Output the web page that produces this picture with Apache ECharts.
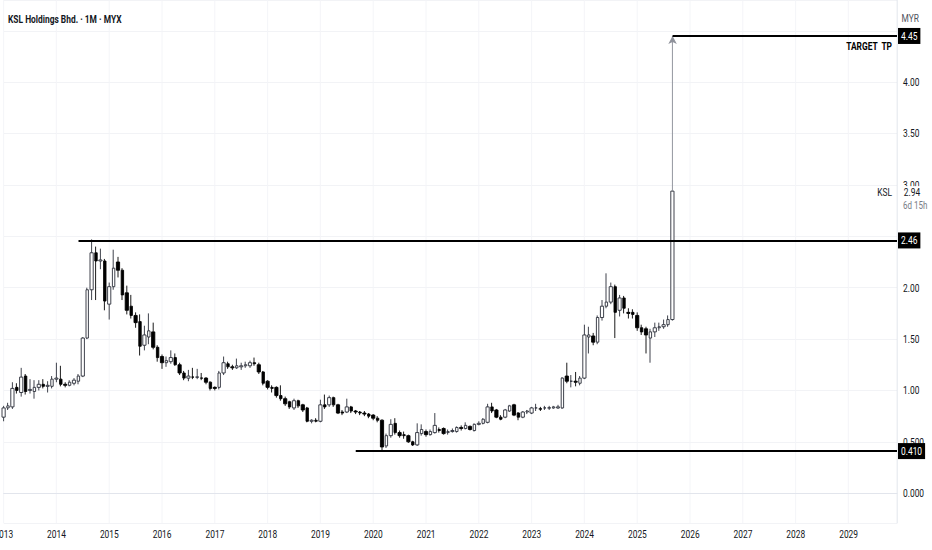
<!DOCTYPE html>
<html><head><meta charset="utf-8">
<script src="https://cdn.jsdelivr.net/npm/echarts@6/dist/echarts.min.js"></script>
<style>
html,body{margin:0;padding:0;background:#fff;overflow:hidden;width:932px;height:550px}
#c{width:1165px;height:550px;transform:scaleX(0.8);transform-origin:0 0}
</style>
</head><body><div id="c"></div>
<script>
// Monthly candles, Jan 2013 .. Sep 2025
const startYear = 2013;
const monthCount = 204; // axis runs Jan 2013 .. Dec 2029
const opens = [
 0.74,0.83,0.84,1.03,0.98,1.14,1.00,0.99,1.03,1.06,
 1.04,1.04,1.11,1.11,1.06,1.05,1.07,1.09,1.14,1.51,
 1.98,2.34,2.26,2.26,1.84,2.01,2.25,2.17,1.95,1.82,
 1.73,1.67,1.44,1.52,1.57,1.42,1.33,1.27,1.28,1.32,
 1.25,1.17,1.12,1.13,1.13,1.12,1.12,1.08,1.03,1.03,
 1.17,1.26,1.23,1.22,1.23,1.24,1.24,1.27,1.25,1.18,
 1.09,1.03,1.03,0.95,0.92,0.89,0.83,0.90,0.86,0.83,
 0.70,0.71,0.70,0.86,0.86,0.93,0.86,0.79,0.79,0.84,
 0.80,0.79,0.78,0.77,0.76,0.73,0.71,0.46,0.56,0.68,
 0.59,0.57,0.56,0.50,0.47,0.58,0.60,0.57,0.59,0.62,
 0.63,0.59,0.60,0.60,0.64,0.63,0.65,0.61,0.67,0.68,
 0.69,0.84,0.81,0.74,0.74,0.80,0.86,0.78,0.74,0.79,
 0.78,0.83,0.82,0.83,0.83,0.83,0.83,0.83,1.14,1.09,
 1.09,1.07,1.12,1.52,1.53,1.47,1.71,1.82,1.86,2.01,
 1.78,1.90,1.76,1.76,1.73,1.61,1.60,1.51,1.57,1.61,
 1.62,1.64,1.69
];
const closes = [
 0.83,0.85,1.02,1.00,1.13,0.99,1.01,1.03,1.06,1.04,
 1.05,1.11,1.12,1.06,1.05,1.08,1.10,1.14,1.51,1.98,
 2.34,2.26,2.27,1.87,2.01,2.19,2.17,1.93,1.78,1.73,
 1.66,1.43,1.54,1.58,1.42,1.32,1.27,1.29,1.32,1.25,
 1.17,1.12,1.14,1.13,1.13,1.12,1.08,1.02,1.02,1.17,
 1.27,1.23,1.22,1.24,1.24,1.25,1.27,1.26,1.18,1.07,
 1.03,1.02,0.95,0.92,0.87,0.84,0.90,0.85,0.81,0.70,
 0.71,0.70,0.86,0.84,0.93,0.86,0.78,0.78,0.84,0.80,
 0.79,0.78,0.77,0.75,0.73,0.71,0.45,0.56,0.67,0.59,
 0.56,0.56,0.50,0.47,0.59,0.62,0.57,0.60,0.66,0.61,
 0.58,0.60,0.61,0.64,0.63,0.66,0.62,0.67,0.68,0.72,
 0.84,0.80,0.74,0.72,0.81,0.85,0.76,0.74,0.79,0.80,
 0.83,0.83,0.82,0.83,0.83,0.84,0.84,1.12,1.09,1.09,
 1.08,1.12,1.54,1.54,1.47,1.71,1.82,1.86,2.01,1.76,
 1.90,1.80,1.75,1.74,1.61,1.57,1.54,1.57,1.61,1.62,
 1.64,1.69,2.94
];
const lows = [
 0.70,0.81,0.82,0.97,0.94,0.96,0.97,0.92,1.00,1.02,
 0.98,1.02,1.08,1.04,1.03,1.04,1.05,1.06,1.13,1.50,
 1.88,1.88,2.18,1.78,1.69,1.98,2.10,1.88,1.74,1.70,
 1.61,1.34,1.39,1.45,1.40,1.28,1.21,1.23,1.26,1.24,
 1.15,1.10,1.09,1.11,1.11,1.10,1.06,1.00,1.00,1.01,
 1.15,1.21,1.20,1.21,1.20,1.22,1.22,1.24,1.16,1.05,
 1.01,0.98,0.93,0.90,0.85,0.82,0.81,0.83,0.79,0.69,
 0.68,0.69,0.69,0.82,0.84,0.84,0.77,0.76,0.78,0.78,
 0.77,0.76,0.75,0.73,0.71,0.69,0.41,0.44,0.54,0.57,
 0.54,0.53,0.49,0.46,0.46,0.56,0.55,0.56,0.58,0.59,
 0.57,0.57,0.59,0.59,0.61,0.62,0.61,0.60,0.66,0.67,
 0.68,0.78,0.73,0.71,0.73,0.79,0.75,0.71,0.73,0.77,
 0.77,0.80,0.80,0.81,0.81,0.82,0.82,0.82,1.07,1.03,
 1.04,1.05,1.11,1.36,1.44,1.45,1.68,1.80,1.84,1.51,
 1.72,1.75,1.70,1.70,1.58,1.54,1.36,1.27,1.52,1.58,
 1.60,1.62,1.68
];
const highs = [
 0.85,0.88,1.08,1.07,1.22,1.16,1.11,1.10,1.10,1.11,
 1.09,1.14,1.27,1.24,1.08,1.10,1.12,1.16,1.52,2.00,
 2.47,2.40,2.38,2.28,2.05,2.37,2.30,2.19,2.02,1.93,
 1.76,1.74,1.63,1.75,1.66,1.44,1.35,1.33,1.39,1.36,
 1.27,1.19,1.20,1.22,1.21,1.17,1.13,1.09,1.04,1.19,
 1.33,1.28,1.25,1.31,1.27,1.28,1.29,1.32,1.27,1.19,
 1.10,1.05,1.04,1.05,0.94,0.90,0.92,0.91,0.87,0.84,
 0.72,0.73,0.91,0.96,0.95,0.94,0.87,0.81,0.92,0.85,
 0.81,0.80,0.80,0.78,0.77,0.75,0.72,0.58,0.72,0.73,
 0.61,0.60,0.57,0.51,0.68,0.67,0.62,0.62,0.78,0.64,
 0.64,0.62,0.63,0.65,0.66,0.69,0.66,0.68,0.70,0.73,
 0.87,0.88,0.82,0.76,0.82,0.86,0.87,0.79,0.80,0.81,
 0.84,0.87,0.84,0.85,0.85,0.85,0.86,1.13,1.27,1.15,
 1.18,1.14,1.64,1.62,1.56,1.73,1.88,2.14,2.05,2.03,
 1.93,1.92,1.80,1.79,1.76,1.64,1.62,1.60,1.66,1.66,
 1.69,1.73,2.95
];
// Horizontal levels drawn on the chart
const levelValues = [2.46, 0.41, 4.45];
const levelStartIdx = [17, 80, 152];
const levelTexts = ['2.46', '0.410', '4.45'];
const targetText = 'TARGET  TP';
const symbolText = 'KSL';
const countdownText = '6d 15h';
const titleText = 'KSL Holdings Bhd. \u00b7 1M \u00b7 MYX';
const currencyText = 'MYR';

// The page is drawn 1/0.8 wider and squeezed horizontally (narrow UI text, as in the reference)
const SX = 0.8;
const px = (v) => v / SX;
const FONT = "Roboto, 'Liberation Sans', sans-serif";
const SZ = 10.5;
const TXT = '#131722';

const months = [];
for (let i = 0; i < monthCount; i++) {
  const y = startYear + Math.floor(i / 12), m = i % 12 + 1;
  months.push(y + '-' + (m < 10 ? '0' + m : m));
}
const candles = opens.map((o, i) => [o, closes[i], lows[i], highs[i]]);
const lastIdx = candles.length - 1;
const lastClose = closes[lastIdx];
const endCat = months[monthCount - 1];

const levelLines = levelValues.map((v, i) => [
  { name: levelTexts[i], coord: [months[levelStartIdx[i]], v] },
  { coord: [endCat, v] }
]);

const chart = echarts.init(document.getElementById('c'), null, { renderer: 'svg' });
chart.setOption({
  animation: false,
  backgroundColor: '#fff',
  textStyle: { fontFamily: FONT },
  title: [
    { text: titleText, left: px(4), top: 9, textStyle: { fontSize: 10.5, fontWeight: 'bold', color: TXT, fontFamily: FONT } },
    { text: currencyText, right: px(9), top: 8, textStyle: { fontSize: SZ, fontWeight: 'normal', color: '#50535e', fontFamily: FONT } }
  ],
  grid: { left: px(3.7), right: px(35), top: 0, bottom: 27, containLabel: false, outerBoundsMode: 'none' },
  xAxis: {
    type: 'category', data: months, boundaryGap: false,
    axisLine: { show: true, lineStyle: { color: '#e0e3eb' } },
    axisTick: { show: false },
    axisLabel: {
      interval: (i) => i % 12 === 0,
      formatter: (v) => v.slice(0, 4),
      color: TXT, fontSize: SZ, margin: 6, fontFamily: FONT
    },
    splitLine: { show: true, interval: (i) => i % 12 === 0, lineStyle: { color: '#f3f4f7' } }
  },
  yAxis: {
    type: 'value', position: 'right', min: -0.29, max: 4.8,
    splitNumber: 10, minInterval: 0.5, maxInterval: 0.5, scale: false,
    axisLine: { show: true, lineStyle: { color: '#e0e3eb' } },
    axisTick: { show: false },
    axisLabel: {
      showMinLabel: false, showMaxLabel: false, margin: px(6),
      color: TXT, fontSize: SZ, fontFamily: FONT,
      formatter: (v) => {
        const r = v / 0.5;
        if (Math.abs(r - Math.round(r)) > 1e-6) return '';
        if (Math.abs(v - 2.5) < 1e-6 || Math.abs(v - 4.5) < 1e-6) return '';
        return v < 0.75 ? v.toFixed(3) : v.toFixed(2);
      }
    },
    splitLine: { show: true, lineStyle: { color: '#f0f2f5' } }
  },
  series: [
    {
      type: 'line', data: [], z: 1,
      markLine: {
        silent: true, animation: false,
        symbol: ['none', 'arrow'], symbolSize: [8, 8],
        lineStyle: { color: '#8f929b', width: 1.2, type: 'solid' },
        label: { show: false },
        data: [[{ coord: [months[lastIdx], lastClose] }, { coord: [months[lastIdx], levelValues[2]] }]]
      }
    },
    {
      type: 'candlestick', data: candles, barWidth: px(3.2), clip: false, z: 3,
      itemStyle: {
        color: '#ffffff', color0: '#000000',
        borderColor: '#2a2e39', borderColor0: '#000000', borderWidth: 1
      },
      markLine: {
        silent: true, animation: false, symbol: ['none', 'none'],
        lineStyle: { color: '#000', width: 2, type: 'solid' },
        label: {
          show: true, position: 'end', distance: px(1), formatter: '{b}',
          backgroundColor: '#000', color: '#fff', padding: [3, px(3), 2, px(3)],
          fontSize: SZ, fontFamily: FONT
        },
        data: levelLines
      },
      markPoint: {
        silent: true, animation: false, symbol: 'circle', symbolSize: 0,
        data: [
          { coord: [endCat, lastClose], label: {
              show: true, position: 'right', distance: px(6), offset: [0, 8],
              formatter: '{a|' + lastClose.toFixed(2) + '}\n{b|' + countdownText + '}',
              rich: {
                a: { color: TXT, fontSize: SZ, fontFamily: FONT, backgroundColor: '#fff', padding: [1, 2, 1, 1], lineHeight: 14 },
                b: { color: '#787b86', fontSize: 10, fontFamily: FONT, lineHeight: 13 }
              } } },
          { coord: [endCat, lastClose], label: {
              show: true, position: 'left', distance: px(5), offset: [0, 1],
              formatter: symbolText, color: TXT, fontSize: SZ, fontFamily: FONT } },
          { coord: [endCat, levelValues[2]], label: {
              show: true, position: 'left', distance: px(5), offset: [0, 10],
              formatter: targetText, color: '#000', fontSize: 10.5, fontWeight: 'bold', fontFamily: FONT } }
        ]
      }
    }
  ]
});
</script>
</body></html>
